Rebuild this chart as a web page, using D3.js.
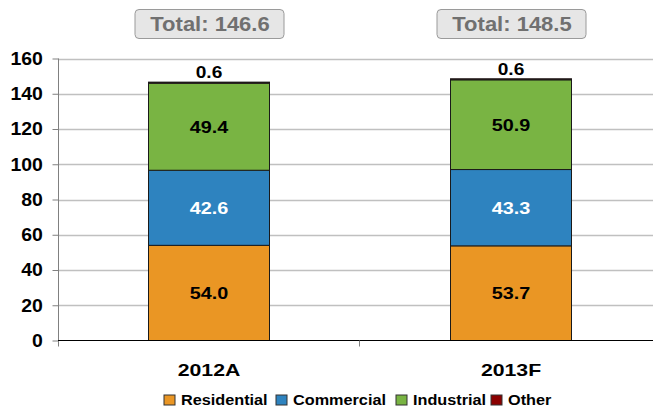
<!DOCTYPE html>
<html><head><meta charset="utf-8">
<script src="https://cdn.jsdelivr.net/npm/d3@7"></script>
<style>body{margin:0;background:#fff}svg{display:block;font-family:"Liberation Sans",Arial,sans-serif}</style>
</head><body><svg id="c" width="653" height="407"></svg>
<script>
const categories = ["2012A", "2013F"];
const seriesNames = ["Residential", "Commercial", "Industrial", "Other"];
const residential = [54.0, 53.7];
const commercial = [42.6, 43.3];
const industrial = [49.4, 50.9];
const other = [0.6, 0.6];
const totals = [146.6, 148.5];
const yTicks = [0, 20, 40, 60, 80, 100, 120, 140, 160];
const colors = ["#EA9624", "#2E83BF", "#79B443", "#8B0000"];
const labelColors = ["#000", "#fff", "#000", "#000"];

const SX = 1.2; // horizontal text stretch seen in the reference
const FONT = "Liberation Sans, Arial, sans-serif";
const svg = d3.select("#c");
const seriesVals = [residential, commercial, industrial, other];
const rows = categories.map((c, i) => {
  const r = {cat: c};
  seriesNames.forEach((s, k) => r[s] = seriesVals[k][i]);
  return r;
});
const stack = d3.stack().keys(seriesNames)(rows);

const x = d3.scaleBand().domain(categories).range([58, 662]).paddingInner(0).paddingOuter(0);
const y = d3.scaleLinear().domain([0, 160]).range([340.5, 58.5]);
const barW = 121;

function stext(sel, px, py, sx) {
  return sel.attr("transform", (d, i) => `translate(${px(d, i)},${py(d, i)}) scale(${sx},1)`);
}

// gridlines
svg.append("g").selectAll("line").data(yTicks.filter(t => t > 0)).join("line")
  .attr("x1", 58).attr("x2", 653).attr("y1", d => Math.round(y(d)) + 0.5).attr("y2", d => Math.round(y(d)) + 0.5)
  .attr("stroke", "#c0c0c0").attr("stroke-width", 1.5);

// y axis
const yAxis = svg.append("g").attr("transform", "translate(58.5,0)")
  .call(d3.axisLeft(y).tickValues(yTicks).tickSize(6).tickPadding(8.5));
yAxis.select(".domain").attr("stroke", "#808080").attr("d", `M0,${y(160)}V${y(0)+6}`);
yAxis.selectAll(".tick line").attr("stroke", "#808080");
yAxis.selectAll(".tick text").attr("font-size", 18).attr("font-weight", "bold").attr("fill", "#000")
  .attr("font-family", FONT).attr("transform", "scale(1.08,1)");

// bars
stack.forEach((layer, k) => {
  svg.append("g").selectAll("rect").data(layer).join("rect")
    .attr("x", d => x(d.data.cat) + x.bandwidth() / 2 - barW / 2)
    .attr("width", barW)
    .attr("y", d => y(d[1]))
    .attr("height", d => y(d[0]) - y(d[1]))
    .attr("fill", colors[k])
    .attr("stroke", "#1a1a1a").attr("stroke-width", 1);
});

// segment labels
stack.forEach((layer, k) => {
  if (k === 3) return;
  const t = svg.append("g").selectAll("text").data(layer).join("text")
    .attr("dy", "0.36em")
    .attr("text-anchor", "middle").attr("font-size", 16.5).attr("font-weight", "bold")
    .attr("fill", labelColors[k])
    .text(d => d.data[seriesNames[k]].toFixed(1));
  stext(t, d => x(d.data.cat) + x.bandwidth() / 2, d => y((d[0] + d[1]) / 2), SX);
});
// other labels above bars
const ot = svg.append("g").selectAll("text").data(stack[3]).join("text")
  .attr("text-anchor", "middle").attr("font-size", 16.5).attr("font-weight", "bold").attr("fill", "#000")
  .text(d => d.data.Other.toFixed(1));
stext(ot, d => x(d.data.cat) + x.bandwidth() / 2, d => y(d[1]) - 4, 1.16);

// baseline x axis
const xAxis = svg.append("g").attr("transform", `translate(0,${y(0)})`)
  .call(d3.axisBottom(x).tickSize(0).tickPadding(23));
xAxis.select(".domain").attr("stroke", "#000").attr("d", "M58,0H653");
xAxis.selectAll(".tick text").attr("font-size", 17).attr("font-weight", "bold").attr("fill", "#000")
  .attr("font-family", FONT).attr("transform", "scale(1.25,1)");
svg.append("line").attr("x1", 359.5).attr("x2", 359.5).attr("y1", y(0)).attr("y2", y(0) + 6).attr("stroke", "#808080");

// totals boxes
const tg = svg.append("g").selectAll("g").data(categories).join("g")
  .attr("transform", d => `translate(${x(d) + x.bandwidth() / 2},0)`);
tg.append("rect").attr("x", -74).attr("y", 9.5).attr("width", 149).attr("height", 29).attr("rx", 4)
  .attr("fill", "#e6e6e6").attr("stroke", "#9a9a9a").attr("stroke-width", 1);
tg.append("text").attr("dy", "0.36em").attr("text-anchor", "middle")
  .attr("transform", "translate(1,24) scale(1.1,1)")
  .attr("font-size", 20).attr("font-weight", "bold").attr("fill", "#707070")
  .text((d, i) => "Total: " + totals[i].toFixed(1));

// legend
const legendX = [164, 276, 396, 491];
const lg = svg.append("g").selectAll("g").data(seriesNames).join("g")
  .attr("transform", (d, i) => `translate(${legendX[i]},395)`);
lg.append("rect").attr("width", 11).attr("height", 10).attr("fill", (d, i) => colors[i])
  .attr("stroke", "#333").attr("stroke-width", 1);
lg.append("text").attr("dy", "0.36em")
  .attr("transform", "translate(17,5) scale(1.16,1)")
  .attr("font-size", 14).attr("font-weight", "bold").attr("fill", "#000").text(d => d);
</script>
</body></html>
